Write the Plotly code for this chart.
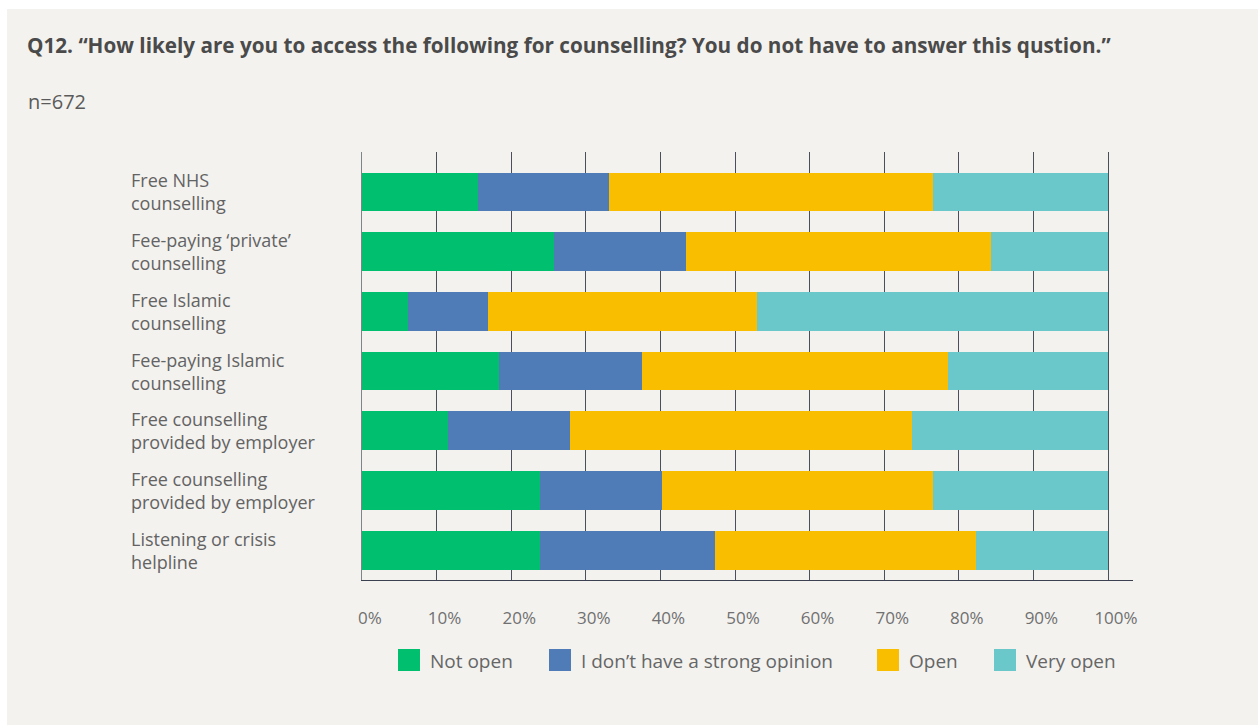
import plotly.graph_objects as go

# Survey responses (percent of respondents), one row per counselling option
categories = [
    "Free NHS<br>counselling",
    "Fee-paying ‘private’<br>counselling",
    "Free Islamic<br>counselling",
    "Fee-paying Islamic<br>counselling",
    "Free counselling<br>provided by employer",
    "Free counselling<br>provided by employer",
    "Listening or crisis<br>helpline",
]
series_names = ["Not open", "I don’t have a strong opinion", "Open", "Very open"]
not_open = [15.5, 25.7, 6.2, 18.4, 11.5, 23.8, 23.8]
no_opinion = [17.6, 17.7, 10.7, 19.1, 16.4, 16.4, 23.5]
open_ = [43.4, 40.9, 36.1, 41.0, 45.8, 36.3, 35.0]
very_open = [23.5, 15.7, 47.0, 21.5, 26.3, 23.5, 17.7]
series_values = [not_open, no_opinion, open_, very_open]
colors = ["#00BF6F", "#4F7CB6", "#F9BE00", "#6BC8CA"]

tick_vals = list(range(0, 101, 10))
tick_text = [f"{v}%" for v in tick_vals]

title_text = "Q12. “How likely are you to access the following for counselling? You do not have to answer this qustion.”"
subtitle_text = "n=672"

W, H = 1259, 726
L, R, T, B = 362, 126, 152, 146
PW, PH = W - L - R, H - T - B
FONT = "Open Sans"

def px_x(x):
    return (x - L) / PW

def px_y(y):
    return (H - B - y) / PH

rows = list(range(len(categories)))

fig = go.Figure()
for name, vals, col in zip(series_names, series_values, colors):
    fig.add_trace(go.Bar(
        y=rows, x=vals, name=name, orientation="h",
        marker=dict(color=col, line=dict(width=0)),
        width=0.65, showlegend=False, hoverinfo="x+name",
    ))

annotations = []
# category labels, left aligned
for i, cat in enumerate(categories):
    annotations.append(dict(
        x=px_x(129), xref="paper", y=i, yref="y", text=cat,
        xanchor="left", yanchor="middle", align="left", showarrow=False,
        font=dict(family=FONT, size=18, color="#636363"),
    ))

annotations.append(dict(
    x=px_x(25), xref="paper", y=px_y(45), yref="paper",
    text=f"<b>{title_text}</b>", xanchor="left", yanchor="middle",
    showarrow=False, font=dict(family=FONT, size=20.7, color="#4A4A4A"),
))
annotations.append(dict(
    x=px_x(26), xref="paper", y=px_y(101), yref="paper",
    text=subtitle_text, xanchor="left", yanchor="middle",
    showarrow=False, font=dict(family=FONT, size=20, color="#5A5A5A"),
))

# legend row: colour swatches with labels
shapes = [dict(
    type="rect", xref="paper", yref="paper", layer="below",
    x0=px_x(7), x1=px_x(1258), y0=px_y(725), y1=px_y(9),
    fillcolor="#F3F2EF", line=dict(width=0),
)]
swatch_x = [398, 549, 877, 994]
for sx, name, col in zip(swatch_x, series_names, colors):
    shapes.append(dict(
        type="rect", xref="paper", yref="paper",
        x0=px_x(sx), x1=px_x(sx + 22), y0=px_y(671), y1=px_y(649),
        fillcolor=col, line=dict(width=0),
    ))
    annotations.append(dict(
        x=px_x(sx + 30), xref="paper", y=px_y(661), yref="paper",
        text=name, xanchor="left", yanchor="middle", showarrow=False,
        font=dict(family=FONT, size=19, color="#666666"),
    ))

fig.update_layout(
    width=W, height=H,
    margin=dict(l=L, r=R, t=T, b=B, pad=0),
    barmode="stack",
    paper_bgcolor="#FFFFFF",
    plot_bgcolor="rgba(0,0,0,0)",
    showlegend=False,
    shapes=shapes,
    annotations=annotations,
    xaxis=dict(
        range=[0, 100 * (1133 - L) / (1108 - L)],
        tickvals=tick_vals, ticktext=tick_text,
        showgrid=True, gridcolor="#4A4F5C", gridwidth=1.2,
        zeroline=False, showline=True, linecolor="#3B4150", linewidth=1.2,
        ticks="", ticklabelshift=8, ticklabelstandoff=22,
        tickfont=dict(family=FONT, size=17, color="#707070"),
        fixedrange=True,
    ),
    yaxis=dict(
        range=[6.5, -0.67],
        showticklabels=False, showgrid=False, zeroline=False,
        showline=True, linecolor="#80838C", linewidth=1.2,
        ticks="", fixedrange=True,
    ),
)

fig.write_html("out.html")
